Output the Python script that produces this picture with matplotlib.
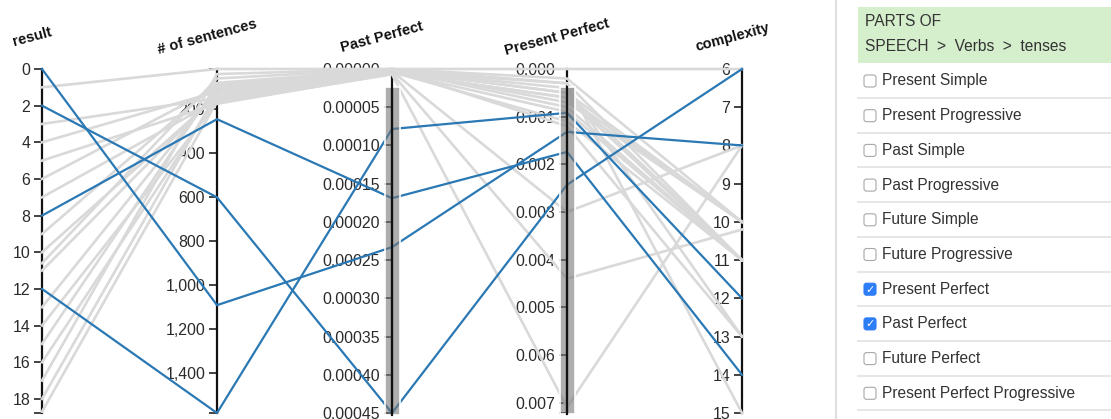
import matplotlib.pyplot as plt
from matplotlib.patches import Rectangle, FancyBboxPatch
from matplotlib.ticker import FixedLocator, FuncFormatter

# dimensions of the parallel coordinates plot
dims = ['result', '# of sentences', 'Past Perfect', 'Present Perfect', 'complexity']
limits = [(0, 18.77), (17, 1580), (0, 0.00045), (0, 0.00722), (6, 15)]
ticks = [
    list(range(0, 19, 2)),
    list(range(200, 1401, 200)),
    [i * 0.00005 for i in range(10)],
    [i * 0.001 for i in range(8)],
    list(range(6, 16)),
]
tick_fmt = ['{:.0f}', '{:,.0f}', '{:.5f}', '{:.3f}', '{:.0f}']

# selected (blue) documents
sel_result = [0, 2, 8, 12]
sel_sentences = [1090, 600, 245, 1580]
sel_past = [0.000233, 0.00045, 0.000169, 0.0000785]
sel_present = [0.00132, 0.00243, 0.00174, 0.00092]
sel_complexity = [8, 6, 14, 12]

# filtered-out (grey) documents
grey_result = [1, 3, 4, 5, 6, 7, 9, 10, 10.6, 11, 13, 14, 15, 16, 17, 18, 18.7]
grey_sentences = [17, 150, 120, 175, 100, 160, 80, 140, 60, 130, 110, 170, 90, 150, 40, 125, 165]
grey_past = [0, 0.000003, 0.000001, 0.000006, 0.000002, 0.000004, 0.000001, 0.000005, 0,
             0.000003, 0.000002, 0.000007, 0.000001, 0.000004, 0, 0.000002, 0.000005]
grey_present = [0, 0.0003, 0.0007, 0.0044, 0.0005, 0.0009, 0.0012, 0.0006, 0.0002,
                0.0030, 0.0004, 0.0071, 0.0008, 0.0011, 0.0003, 0.0005, 0.0006]
grey_complexity = [6, 11, 10, 10.2, 11, 11, 13, 10, 10, 8, 13, 8, 11, 11, 15, 10, 11]

# brush extents on the two filtered axes
brush_past = [0.0000235, 0.000452]
brush_present = [0.00038, 0.00725]

# side panel
header_lines = ['PARTS OF', 'SPEECH  >  Verbs  >  tenses']
tenses = ['Present Simple', 'Present Progressive', 'Past Simple', 'Past Progressive',
          'Future Simple', 'Future Progressive', 'Present Perfect', 'Past Perfect',
          'Future Perfect', 'Present Perfect Progressive']
checked = [False, False, False, False, False, False, True, True, False, False]

BLUE = '#2a78b4'
GREY = '#d9d9d9'
FONT = ['Liberation Sans', 'DejaVu Sans']

W, H, DPI = 1111, 419, 100
TOP, BOTTOM = 69, 413
STEP = 175
AX_X = [42 + STEP * i for i in range(len(dims))]

plt.rcParams['font.family'] = FONT


def fx(px):
    return px / W


def fy(py):
    return 1 - py / H


def norm(v, k):
    lo, hi = limits[k]
    return (v - lo) / (hi - lo)


fig = plt.figure(figsize=(W / DPI, H / DPI), dpi=DPI)

# axis per dimension (spine + ticks)
for k, name in enumerate(dims):
    x = AX_X[k]
    ax = fig.add_axes([fx(x - 10), fy(BOTTOM), 20 / W, (BOTTOM - TOP) / H])
    ax.set_zorder(1)
    ax.patch.set_visible(False)
    lo, hi = limits[k]
    ax.set_ylim(hi, lo)
    ax.set_xticks([])
    for s in ['right', 'top', 'bottom']:
        ax.spines[s].set_visible(False)
    ax.spines['left'].set_position(('axes', 0.5))
    ax.spines['left'].set_linewidth(1.6)
    ax.spines['left'].set_color('#111111')
    ax.yaxis.set_major_locator(FixedLocator(ticks[k]))
    ax.yaxis.set_major_formatter(FuncFormatter(lambda v, p, f=tick_fmt[k]: f.format(v)))
    ax.yaxis.set_minor_locator(FixedLocator([lo, hi]))
    ax.tick_params(axis='y', which='both', direction='out', length=6, width=1.1,
                   color='#111111', pad=2.5, labelsize=11.4, labelcolor='#2b2b2b')
    fig.text(fx(x - 10), fy(37), name, rotation=15, ha='center', va='center',
             fontsize=10.5, fontweight='bold', color='#111111')

# polylines
lax = fig.add_axes([fx(AX_X[0]), fy(BOTTOM), (AX_X[-1] - AX_X[0]) / W, (BOTTOM - TOP) / H])
lax.set_zorder(2)
lax.patch.set_visible(False)
lax.set_xlim(0, len(dims) - 1)
lax.set_ylim(1, 0)
lax.axis('off')

grey_cols = [grey_result, grey_sentences, grey_past, grey_present, grey_complexity]
for j in range(len(grey_result)):
    ys = [norm(grey_cols[k][j], k) for k in range(len(dims))]
    lax.plot(range(len(dims)), ys, color=GREY, lw=1.9, clip_on=False, zorder=2,
             solid_joinstyle='round')

sel_cols = [sel_result, sel_sentences, sel_past, sel_present, sel_complexity]
for j in range(len(sel_result)):
    ys = [norm(sel_cols[k][j], k) for k in range(len(dims))]
    lax.plot(range(len(dims)), ys, color=BLUE, lw=1.6, clip_on=False, zorder=3,
             solid_joinstyle='round')

bw = 15 / STEP
for k, br in [(2, brush_past), (3, brush_present)]:
    y0, y1 = norm(br[0], k), norm(br[1], k)
    lax.add_patch(Rectangle((k - bw / 2, y0), bw, y1 - y0, facecolor=(0.47, 0.47, 0.47, 0.6),
                            edgecolor='white', lw=1.2, zorder=5, clip_on=False))
    lax.plot([k, k], [y0, y1], color='#111111', lw=1.6, zorder=6, clip_on=False)

# side panel
inch = fig.dpi_scale_trans
fig.add_artist(plt.Line2D([fx(836), fx(836)], [0, 1], color='#e0e0e0', lw=1.5))
fig.add_artist(Rectangle((858 / DPI, (H - 63) / DPI), (W - 858) / DPI, 56 / DPI,
                         transform=inch, facecolor='#d5eecc', edgecolor='none'))
for i, line in enumerate(header_lines):
    fig.text(fx(865), fy(22 + 24.5 * i), line, ha='left', va='center',
             fontsize=11.2, color='#333333')

ROW0, ROWH = 81, 34.7
for i, name in enumerate(tenses):
    yc = ROW0 + ROWH * i
    fig.add_artist(plt.Line2D([fx(858), 1], [fy(yc + 17), fy(yc + 17)],
                              color='#e6e6e6', lw=1.4))
    on = checked[i]
    fig.add_artist(FancyBboxPatch((864 / DPI, (H - yc - 6) / DPI), 12 / DPI, 12 / DPI,
                                  boxstyle='round,pad=0,rounding_size=0.025', transform=inch,
                                  facecolor='#2c7df6' if on else 'white',
                                  edgecolor='#2c7df6' if on else '#a8a8a8', lw=0.8))
    if on:
        fig.text(fx(870), fy(yc + 0.5), '\u2713', ha='center', va='center', fontsize=8,
                 color='white', fontweight='bold', family=['DejaVu Sans'])
    fig.text(fx(882), fy(yc), name, ha='left', va='center', fontsize=11.2, color='#333333')

fig.savefig('out.png', dpi=DPI)
